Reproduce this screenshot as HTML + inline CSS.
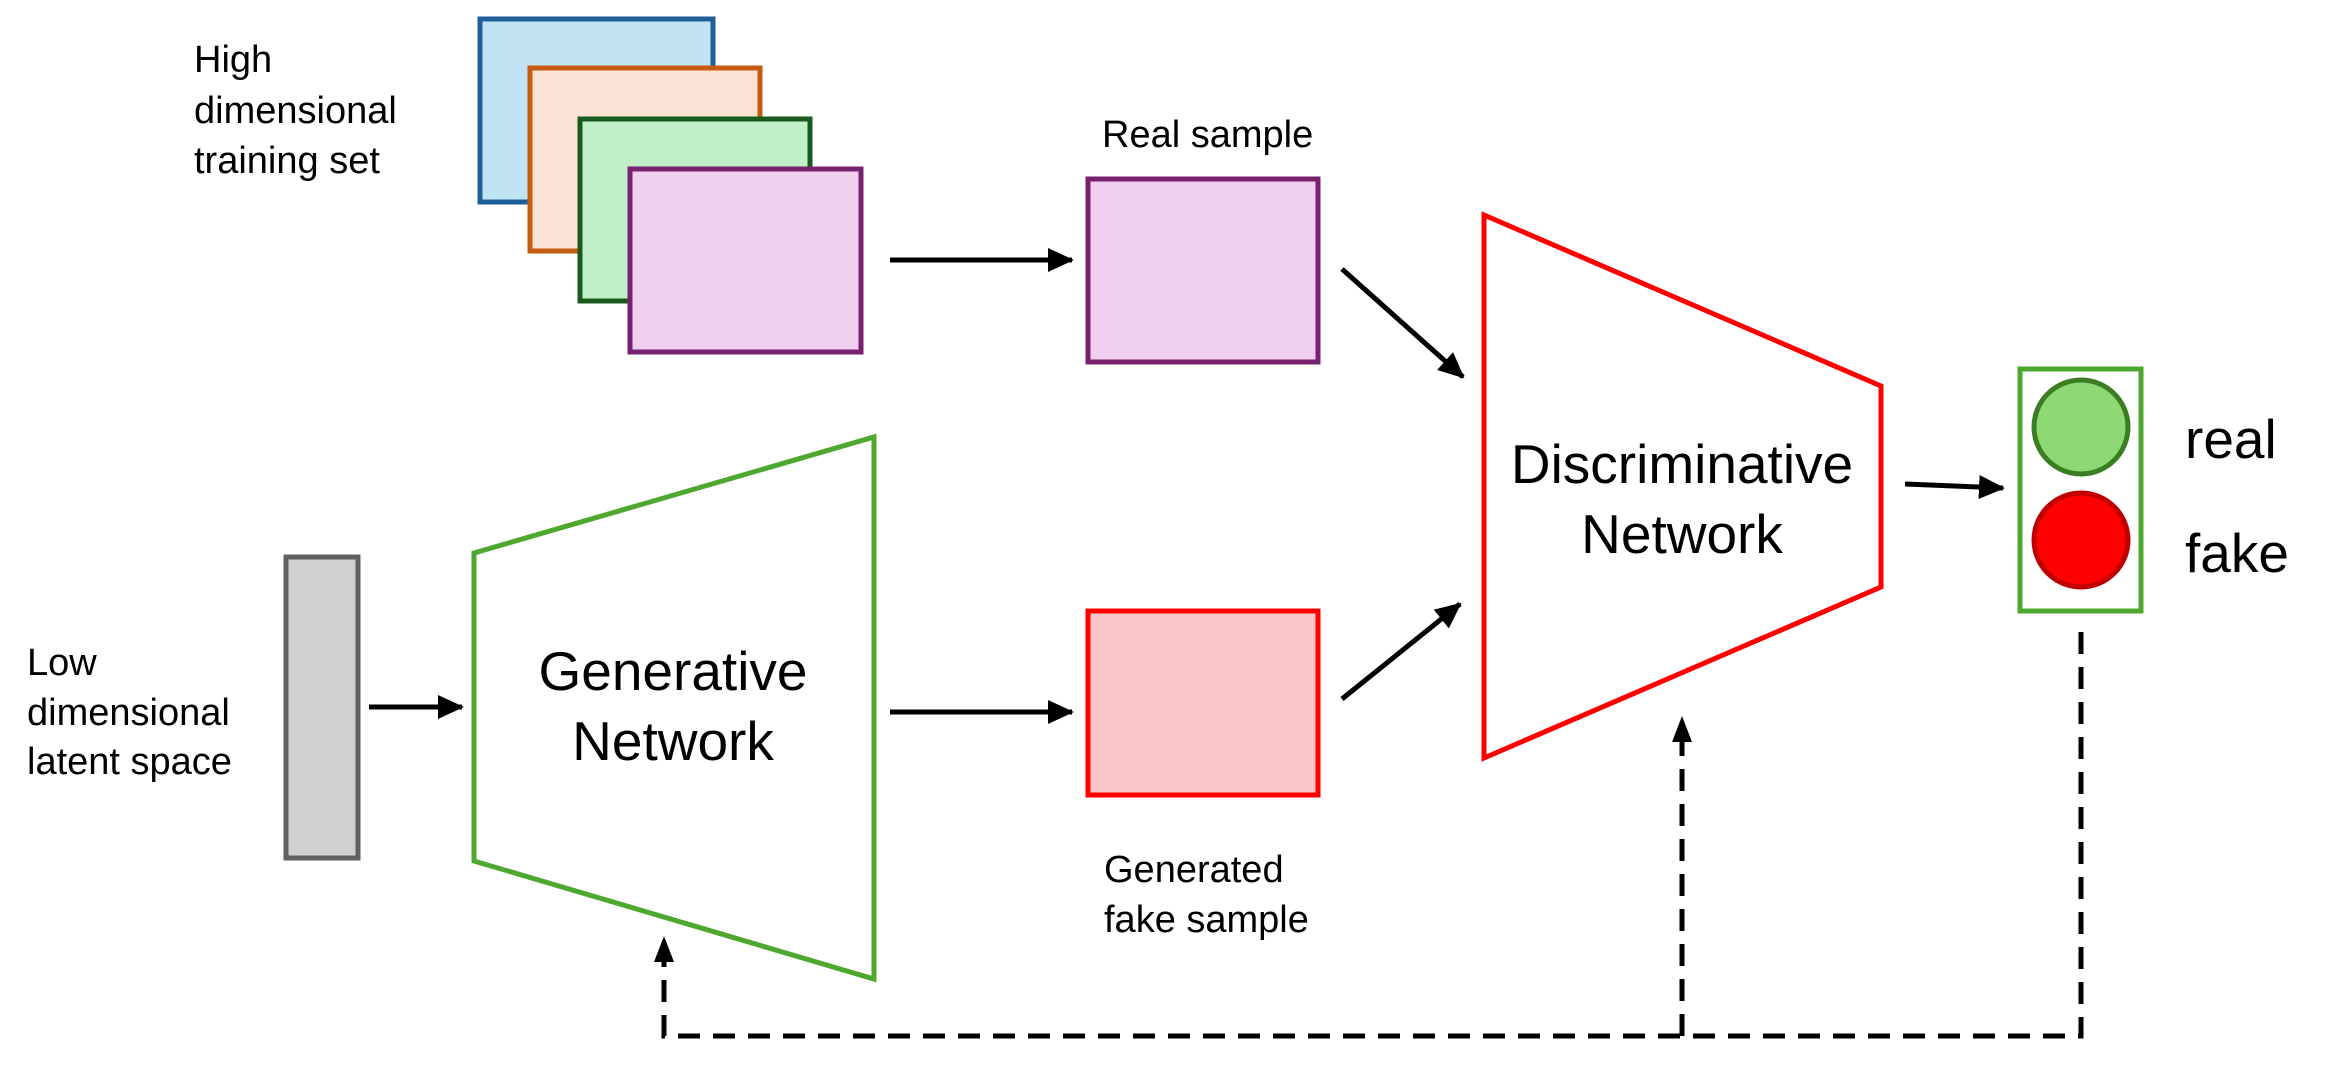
<!DOCTYPE html>
<html><head><style>html,body{margin:0;padding:0;background:#fff}svg{display:block}</style></head>
<body>
<svg width="2325" height="1074" viewBox="0 0 2325 1074" xmlns="http://www.w3.org/2000/svg" font-family="Liberation Sans, sans-serif">
<defs>
<marker id="ah" markerWidth="26" markerHeight="24" refX="24" refY="12" orient="auto" markerUnits="userSpaceOnUse" viewBox="0 0 26 24">
<path d="M0,0 L26,12 L0,24 z" fill="#000"/></marker>
</defs>
<g stroke-width="5">
<rect x="480" y="19" width="233" height="183" fill="#c1e4f5" stroke="#1f5e99"/>
<rect x="530" y="68" width="230" height="183" fill="#fbe2d5" stroke="#c55a11"/>
<rect x="580" y="119" width="230" height="182" fill="#c1f0c8" stroke="#1a5a1e"/>
<rect x="630" y="169" width="231" height="183" fill="#f1cfee" stroke="#782170"/>
<rect x="1088" y="179" width="230" height="183" fill="#f1cfee" stroke="#782170"/>
<rect x="1088" y="611" width="230" height="184" fill="#f9c7c7" stroke="#ff0000"/>
<rect x="286" y="557" width="72" height="301" fill="#d0d0d0" stroke="#606060"/>
<polygon points="474,553 874,437 874,979 474,861" fill="none" stroke="#4ea72e"/>
<polygon points="1484,215 1881,386 1881,587 1484,758" fill="none" stroke="#ff0000"/>
<rect x="2020" y="369" width="121" height="242" fill="none" stroke="#4ea72e"/>
<circle cx="2081" cy="427" r="47" fill="#8ed973" stroke="#3b7d23"/>
<circle cx="2081" cy="540" r="47" fill="#ff0000" stroke="#c00000"/>
</g>
<g stroke="#000" stroke-width="5" fill="none">
<line x1="890" y1="260" x2="1072" y2="260" marker-end="url(#ah)"/>
<line x1="890" y1="712" x2="1072" y2="712" marker-end="url(#ah)"/>
<line x1="369" y1="707" x2="462" y2="707" marker-end="url(#ah)"/>
<line x1="1342" y1="269" x2="1463" y2="377" marker-end="url(#ah)"/>
<line x1="1342" y1="699" x2="1460" y2="604" marker-end="url(#ah)"/>
<line x1="1905" y1="484" x2="2003" y2="488" marker-end="url(#ah)"/>
</g>
<g stroke="#000" stroke-width="5" fill="none" stroke-dasharray="22 13">
<polyline points="2081,632 2081,1036 664,1036 664,958"/>
<line x1="1682" y1="1036" x2="1682" y2="740"/>
</g>
<path d="M664,936 L654,962 L674,962 z" fill="#000"/>
<path d="M1682,716 L1672,742 L1692,742 z" fill="#000"/>
<g font-size="38" fill="#000">
<text x="194" y="72">High</text>
<text x="194" y="123">dimensional</text>
<text x="194" y="173">training set</text>
<text x="27" y="675">Low</text>
<text x="27" y="725">dimensional</text>
<text x="27" y="774">latent space</text>
<text x="1102" y="147">Real sample</text>
<text x="1104" y="882">Generated</text>
<text x="1104" y="932">fake sample</text>
</g>
<g font-size="55" fill="#000" text-anchor="middle">
<text x="673" y="690">Generative</text>
<text x="673" y="760">Network</text>
<text x="1682" y="483">Discriminative</text>
<text x="1682" y="553">Network</text>
</g>
<g font-size="55" fill="#000">
<text x="2185" y="458">real</text>
<text x="2185" y="572">fake</text>
</g>
</svg>
</body></html>
